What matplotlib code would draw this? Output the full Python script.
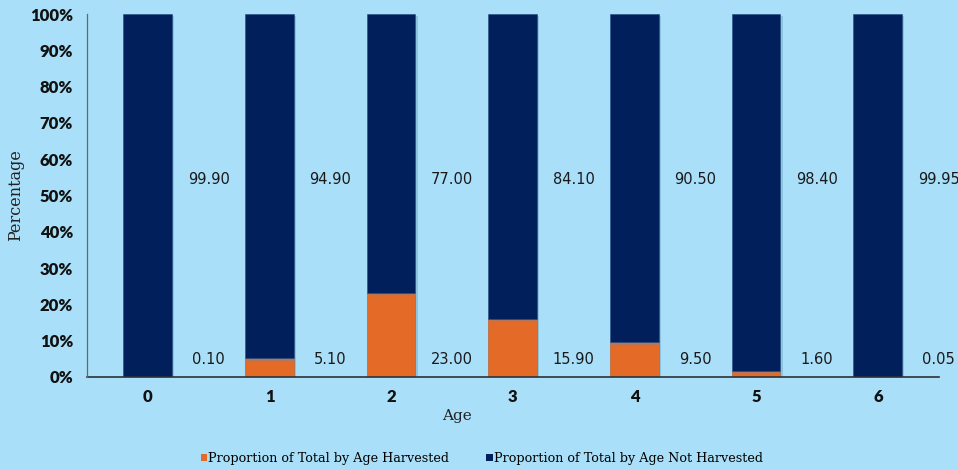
import matplotlib
matplotlib.use("Agg")
import matplotlib.pyplot as plt
import matplotlib.patheffects as pe
from matplotlib.patches import Patch

ages = ["0", "1", "2", "3", "4", "5", "6"]
harvested = [0.10, 5.10, 23.00, 15.90, 9.50, 1.60, 0.05]
not_harvested = [99.90, 94.90, 77.00, 84.10, 90.50, 98.40, 99.95]
pct_ticks = list(range(0, 101, 10))

bg = "#A9DFF8"
orange = "#E46A28"
navy = "#001F5B"

fig = plt.figure(figsize=(9.58, 4.70), dpi=100, facecolor=bg)
ax = fig.add_axes([0.0908, 0.198, 0.889, 0.772], facecolor=bg)

x = list(range(len(ages)))
shadow = [pe.SimplePatchShadow(offset=(1.5, -1.5), shadow_rgbFace="#5C8FAE", alpha=0.35), pe.Normal()]
ax.bar(x, harvested, width=0.4, color=orange, edgecolor="#B85420", linewidth=0.4,
       path_effects=shadow, zorder=2)
ax.bar(x, not_harvested, width=0.4, bottom=harvested, color=navy, edgecolor="#274A7E",
       linewidth=0.4, path_effects=shadow, zorder=2)

# value labels sit to the right of each column
lab_font = dict(family="DejaVu Sans", fontsize=10.5, color="#1a1a1a")
for xi, h, n in zip(x, harvested, not_harvested):
    ax.text(xi + 0.5, 4.7, f"{h:.2f}", ha="center", va="center", **lab_font)
    ax.text(xi + 0.5, 54.3, f"{n:.2f}", ha="center", va="center", **lab_font)

tick_font = dict(family="Lato", fontweight="heavy", fontsize=12, color="#111111")
ax.set_xlim(-0.5, 6.5)
ax.set_ylim(0, 100)
ax.set_yticks(pct_ticks, labels=[f"{p}%" for p in pct_ticks], **tick_font)
ax.set_xticks(x, labels=ages, **tick_font)
ax.tick_params(axis="both", length=0)
ax.tick_params(axis="y", pad=10)
ax.tick_params(axis="x", pad=9)

for s in ["top", "right"]:
    ax.spines[s].set_visible(False)
ax.spines["left"].set_color("#5a6b78")
ax.spines["left"].set_linewidth(0.9)
ax.spines["bottom"].set_color("#2b3238")
ax.spines["bottom"].set_linewidth(1.2)
ax.spines["left"].set_zorder(3)

ax.set_xlabel("Age", family="DejaVu Serif", fontsize=11, color="#222222")
ax.xaxis.set_label_coords(0.435, -0.088)
ax.set_ylabel("Percentage", family="DejaVu Serif", fontsize=11.5, color="#222222")
ax.yaxis.set_label_coords(-0.074, 0.5)

handles = [Patch(facecolor=orange, edgecolor="none"), Patch(facecolor=navy, edgecolor="none")]
fig.legend(handles, ["Proportion of Total by Age Harvested",
                     "Proportion of Total by Age Not Harvested"],
           loc="center", bbox_to_anchor=(0.503, 0.025), ncol=2, frameon=False,
           prop=dict(family="DejaVu Serif", size=9.2), handlelength=0.5, handleheight=0.5,
           handletextpad=0.1, columnspacing=2.9)

fig.savefig("out.png", dpi=100, facecolor=bg)
